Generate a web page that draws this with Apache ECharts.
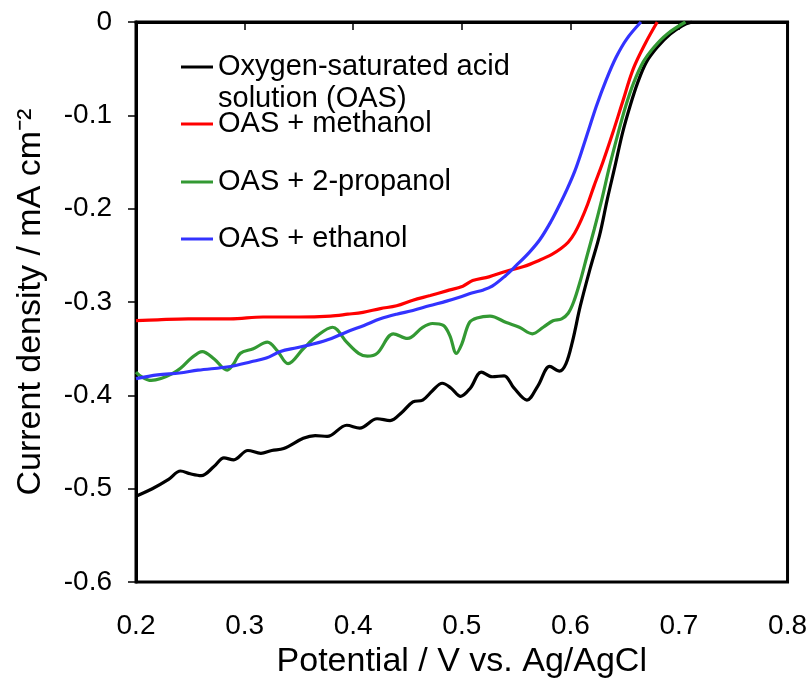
<!DOCTYPE html>
<html>
<head>
<meta charset="utf-8">
<style>
  html, body { margin: 0; padding: 0; background: #fff; }
  #chart { width: 810px; height: 684px; }
</style>
<script src="https://cdn.jsdelivr.net/npm/echarts@6/dist/echarts.min.js"></script>
</head>
<body>
<div id="chart"></div>
<script>
var xTicks = [0.2, 0.3, 0.4, 0.5, 0.6, 0.7, 0.8];
var yTicks = [-0.6, -0.5, -0.4, -0.3, -0.2, -0.1, 0];

var seriesNames = ['Oxygen-saturated acid\nsolution (OAS)', 'OAS + methanol', 'OAS + 2-propanol', 'OAS + ethanol'];
var seriesColors = ['#000000', '#ff0000', '#339933', '#3333ff'];

// [potential V, current density mA cm-2]
var oasData = [
    [0.200, -0.508], [0.215, -0.500], [0.230, -0.490], [0.241, -0.481], [0.250, -0.484],
    [0.260, -0.486], [0.272, -0.476], [0.281, -0.467], [0.290, -0.469], [0.303, -0.459],
    [0.315, -0.462], [0.325, -0.459], [0.336, -0.457], [0.354, -0.446], [0.365, -0.443],
    [0.376, -0.444], [0.394, -0.432], [0.406, -0.435], [0.422, -0.425], [0.434, -0.427],
    [0.445, -0.418], [0.455, -0.407], [0.464, -0.405], [0.473, -0.395], [0.482, -0.387],
    [0.490, -0.392], [0.499, -0.401], [0.508, -0.392], [0.518, -0.375], [0.528, -0.380],
    [0.539, -0.379], [0.548, -0.392], [0.560, -0.405], [0.570, -0.390], [0.581, -0.369],
    [0.590, -0.374], [0.596, -0.366], [0.602, -0.342], [0.609, -0.305], [0.618, -0.265],
    [0.627, -0.228], [0.634, -0.190], [0.641, -0.155], [0.648, -0.119], [0.655, -0.090],
    [0.662, -0.065], [0.670, -0.043], [0.680, -0.027], [0.692, -0.013], [0.703, -0.004],
    [0.712, 0.000]
];
var methanolData = [
    [0.200, -0.320], [0.220, -0.319], [0.248, -0.318], [0.287, -0.318], [0.317, -0.316],
    [0.350, -0.316], [0.379, -0.315], [0.395, -0.313], [0.409, -0.311], [0.425, -0.307],
    [0.440, -0.304], [0.455, -0.298], [0.471, -0.293], [0.486, -0.288], [0.501, -0.283],
    [0.510, -0.277], [0.525, -0.273], [0.541, -0.267], [0.557, -0.262], [0.572, -0.255],
    [0.583, -0.249], [0.591, -0.243], [0.598, -0.236], [0.604, -0.226], [0.610, -0.212],
    [0.616, -0.195], [0.622, -0.175], [0.630, -0.150], [0.639, -0.119], [0.648, -0.086],
    [0.658, -0.050], [0.669, -0.023], [0.680, 0.000]
];
var propanolData = [
    [0.200, -0.375], [0.205, -0.380], [0.214, -0.384], [0.223, -0.382], [0.233, -0.377],
    [0.241, -0.371], [0.251, -0.360], [0.261, -0.353], [0.272, -0.361], [0.284, -0.373],
    [0.290, -0.366], [0.296, -0.355], [0.308, -0.350], [0.321, -0.343], [0.330, -0.352],
    [0.340, -0.366], [0.354, -0.350], [0.367, -0.336], [0.381, -0.327], [0.394, -0.343],
    [0.405, -0.355], [0.413, -0.358], [0.422, -0.355], [0.437, -0.334], [0.450, -0.339],
    [0.464, -0.327], [0.473, -0.323], [0.483, -0.325], [0.489, -0.336], [0.495, -0.355],
    [0.500, -0.345], [0.507, -0.322], [0.514, -0.317], [0.526, -0.315], [0.541, -0.322],
    [0.553, -0.327], [0.565, -0.334], [0.575, -0.327], [0.584, -0.320], [0.592, -0.318],
    [0.598, -0.312], [0.603, -0.300], [0.609, -0.278], [0.615, -0.252], [0.622, -0.222],
    [0.629, -0.190], [0.636, -0.155], [0.644, -0.119], [0.651, -0.090], [0.658, -0.066],
    [0.667, -0.043], [0.677, -0.027], [0.689, -0.013], [0.706, 0.000]
];
var ethanolData = [
    [0.200, -0.382], [0.220, -0.378], [0.240, -0.376], [0.257, -0.373], [0.287, -0.369],
    [0.306, -0.364], [0.320, -0.360], [0.333, -0.353], [0.348, -0.349], [0.363, -0.345],
    [0.380, -0.339], [0.394, -0.332], [0.410, -0.325], [0.425, -0.318], [0.440, -0.313],
    [0.455, -0.309], [0.470, -0.304], [0.486, -0.299], [0.500, -0.294], [0.510, -0.290],
    [0.520, -0.287], [0.528, -0.283], [0.540, -0.272], [0.550, -0.261], [0.562, -0.247],
    [0.572, -0.233], [0.582, -0.214], [0.590, -0.196], [0.597, -0.179], [0.604, -0.160],
    [0.610, -0.140], [0.617, -0.115], [0.624, -0.090], [0.633, -0.062], [0.642, -0.038],
    [0.652, -0.018], [0.665, 0.000]
];
var allData = [oasData, methanolData, propanolData, ethanolData];

var fontName = '"Liberation Sans", Arial, sans-serif';
var chart = echarts.init(document.getElementById('chart'), null, { renderer: 'canvas' });

// one legend per entry so each line can sit where the original puts it
var legendLineHeight = 32;
var legendIconY = [67, 124, 182, 239];
var legends = seriesNames.map(function (name, i) {
    var twoLines = name.indexOf('\n') >= 0;
    return {
        data: [name],
        left: 181,
        top: legendIconY[i] - (twoLines ? 1.5 : 0.5) * legendLineHeight,
        padding: 0,
        icon: 'rect',
        itemWidth: 32,
        itemHeight: 3,
        itemGap: 0,
        selectedMode: false,
        // a blank first line keeps the icon level with the first text line
        formatter: function (n) { return twoLines ? ' \n' + n : n; },
        textStyle: {
            fontFamily: fontName,
            fontSize: 29,
            lineHeight: legendLineHeight,
            color: '#000'
        }
    };
});

var option = {
    backgroundColor: '#fff',
    animation: false,
    grid: {
        left: 136,
        right: 20,
        top: 22,
        bottom: 100,
        show: true,
        borderColor: '#000',
        borderWidth: 3
    },
    legend: legends,
    xAxis: {
        type: 'value',
        min: xTicks[0],
        max: xTicks[xTicks.length - 1],
        interval: 0.1,
        name: 'Potential / V vs. Ag/AgCl',
        nameLocation: 'middle',
        nameGap: 55,
        nameTextStyle: { fontFamily: fontName, fontSize: 34, color: '#000' },
        axisLine: { lineStyle: { color: '#000', width: 3 } },
        axisTick: { length: 8, lineStyle: { color: '#000', width: 1.5 } },
        axisLabel: {
            margin: 30,
            fontFamily: fontName,
            fontSize: 28,
            color: '#000',
            formatter: function (v) { return v.toFixed(1); }
        },
        splitLine: { show: false }
    },
    yAxis: {
        type: 'value',
        min: yTicks[0],
        max: yTicks[yTicks.length - 1],
        interval: 0.1,
        name: 'Current density / mA cm\u207B\u00B2',
        nameLocation: 'middle',
        nameGap: 88,
        nameTextStyle: { fontFamily: fontName, fontSize: 34, color: '#000' },
        axisLine: { lineStyle: { color: '#000', width: 3 } },
        axisTick: { length: 8, lineStyle: { color: '#000', width: 1.5 } },
        axisLabel: {
            margin: 24,
            fontFamily: fontName,
            fontSize: 28,
            color: '#000',
            formatter: function (v) { return v === 0 ? '0' : v.toFixed(1); }
        },
        splitLine: { show: false }
    },
    series: seriesNames.map(function (name, i) {
        return {
            name: name,
            type: 'line',
            data: allData[i],
            smooth: 0.35,
            showSymbol: false,
            color: seriesColors[i],
            lineStyle: { color: seriesColors[i], width: 3.2 }
        };
    })
};

chart.setOption(option);
window.addEventListener('resize', function () {
    chart.resize();
});
</script>
</body>
</html>
